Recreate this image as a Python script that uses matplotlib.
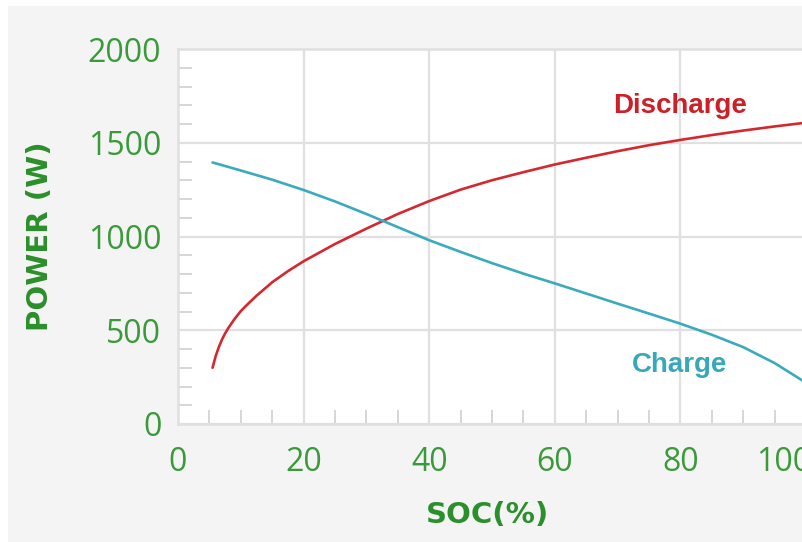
import matplotlib
matplotlib.use("Agg")
import matplotlib.pyplot as plt
from matplotlib.patches import Rectangle
from matplotlib.ticker import MultipleLocator
from matplotlib.transforms import ScaledTranslation

# ---- data ----
soc_discharge = [5.5, 6, 6.5, 7, 7.5, 8, 9, 10, 11, 12.5, 15, 17.5, 20, 25, 30, 35, 40,
                 45, 50, 55, 60, 65, 70, 75, 80, 85, 90, 95, 100]
discharge_w = [300, 362, 410, 450, 483, 511, 560, 602, 636, 684, 756, 815, 868, 960, 1042,
               1120, 1189, 1250, 1300, 1343, 1384, 1420, 1455, 1487, 1515, 1541, 1565,
               1587, 1607]

soc_charge = [5.5, 10, 15, 20, 25, 30, 35, 40, 45, 50, 55, 60, 65, 70, 75,
              80, 85, 90, 95, 100]
charge_w = [1395, 1352, 1303, 1248, 1187, 1120, 1050, 980, 918, 858, 802, 750, 696,
            642, 589, 535, 476, 410, 325, 220]

x_ticks = [0, 20, 40, 60, 80, 100]
y_ticks = [0, 500, 1000, 1500, 2000]
x_label = "SOC(%)"
y_label = "POWER (W)"
series_names = ["Discharge", "Charge"]

# ---- styling ----
tick_green = "#3a9a3a"
label_green = "#2b8f2b"
red = "#d4282f"
teal = "#3aabbd"
grid_gray = "#e0e0e0"

fig = plt.figure(figsize=(8.03, 5.42), dpi=100, facecolor="white")
fig.patches.append(Rectangle((8 / 803, 0), 1, (542 - 6) / 542, transform=fig.transFigure,
                             facecolor="#f4f4f4", edgecolor="none", zorder=-10))

ax = fig.add_axes([178 / 803, (542 - 424) / 542, 628 / 803, 375 / 542])
ax.set_facecolor("white")

ax.plot(soc_discharge, discharge_w, color=red, lw=1.9, solid_capstyle="round",
        solid_joinstyle="round", zorder=3)
ax.plot(soc_charge, charge_w, color=teal, lw=1.9, solid_capstyle="round",
        solid_joinstyle="round", zorder=3)

ax.set_xlim(0, 100)
ax.set_ylim(0, 2000)
ax.set_xticks(x_ticks)
ax.set_yticks(y_ticks)
ax.xaxis.set_minor_locator(MultipleLocator(5))
ax.yaxis.set_minor_locator(MultipleLocator(100))

ax.grid(True, which="major", color=grid_gray, lw=1.6, zorder=0)
ax.set_axisbelow(True)

for side in ["left", "bottom", "top"]:
    ax.spines[side].set_color(grid_gray)
    ax.spines[side].set_linewidth(1.8)
ax.spines["right"].set_visible(False)

ax.tick_params(which="major", length=0)
ax.tick_params(axis="x", which="major", pad=16)
ax.tick_params(axis="y", which="major", pad=12)
ax.tick_params(which="minor", direction="in", length=10, width=1.4, color="#d6d6d6")

tick_font = dict(family="Open Sans", size=23)
ax.set_xticklabels([str(t) for t in x_ticks], color=tick_green, **tick_font)
ax.set_yticklabels([str(t) for t in y_ticks], color=tick_green, **tick_font)
# shift last x tick label left, as in the reference
last = ax.get_xticklabels()[-1]
last.set_transform(last.get_transform() + ScaledTranslation(-22 / 100, 0, fig.dpi_scale_trans))

ax.set_xlabel(x_label, family="DejaVu Sans", fontweight="bold", size=21, color=label_green)
ax.set_ylabel(y_label, family="DejaVu Sans", fontweight="bold", size=21, color=label_green)
ax.xaxis.set_label_coords(0.5 - 4 / 628, -0.205)
ax.yaxis.set_label_coords(-0.197, 0.5)

ax.text(79.9, 1659, series_names[0], color="#cc1f26", family="Liberation Sans",
        fontweight="bold", size=20, ha="center", va="baseline")
ax.text(79.9, 279, series_names[1], color="#36a8b8", family="Liberation Sans",
        fontweight="bold", size=20, ha="center", va="baseline")

fig.savefig("out.png", dpi=100, facecolor=fig.get_facecolor())
